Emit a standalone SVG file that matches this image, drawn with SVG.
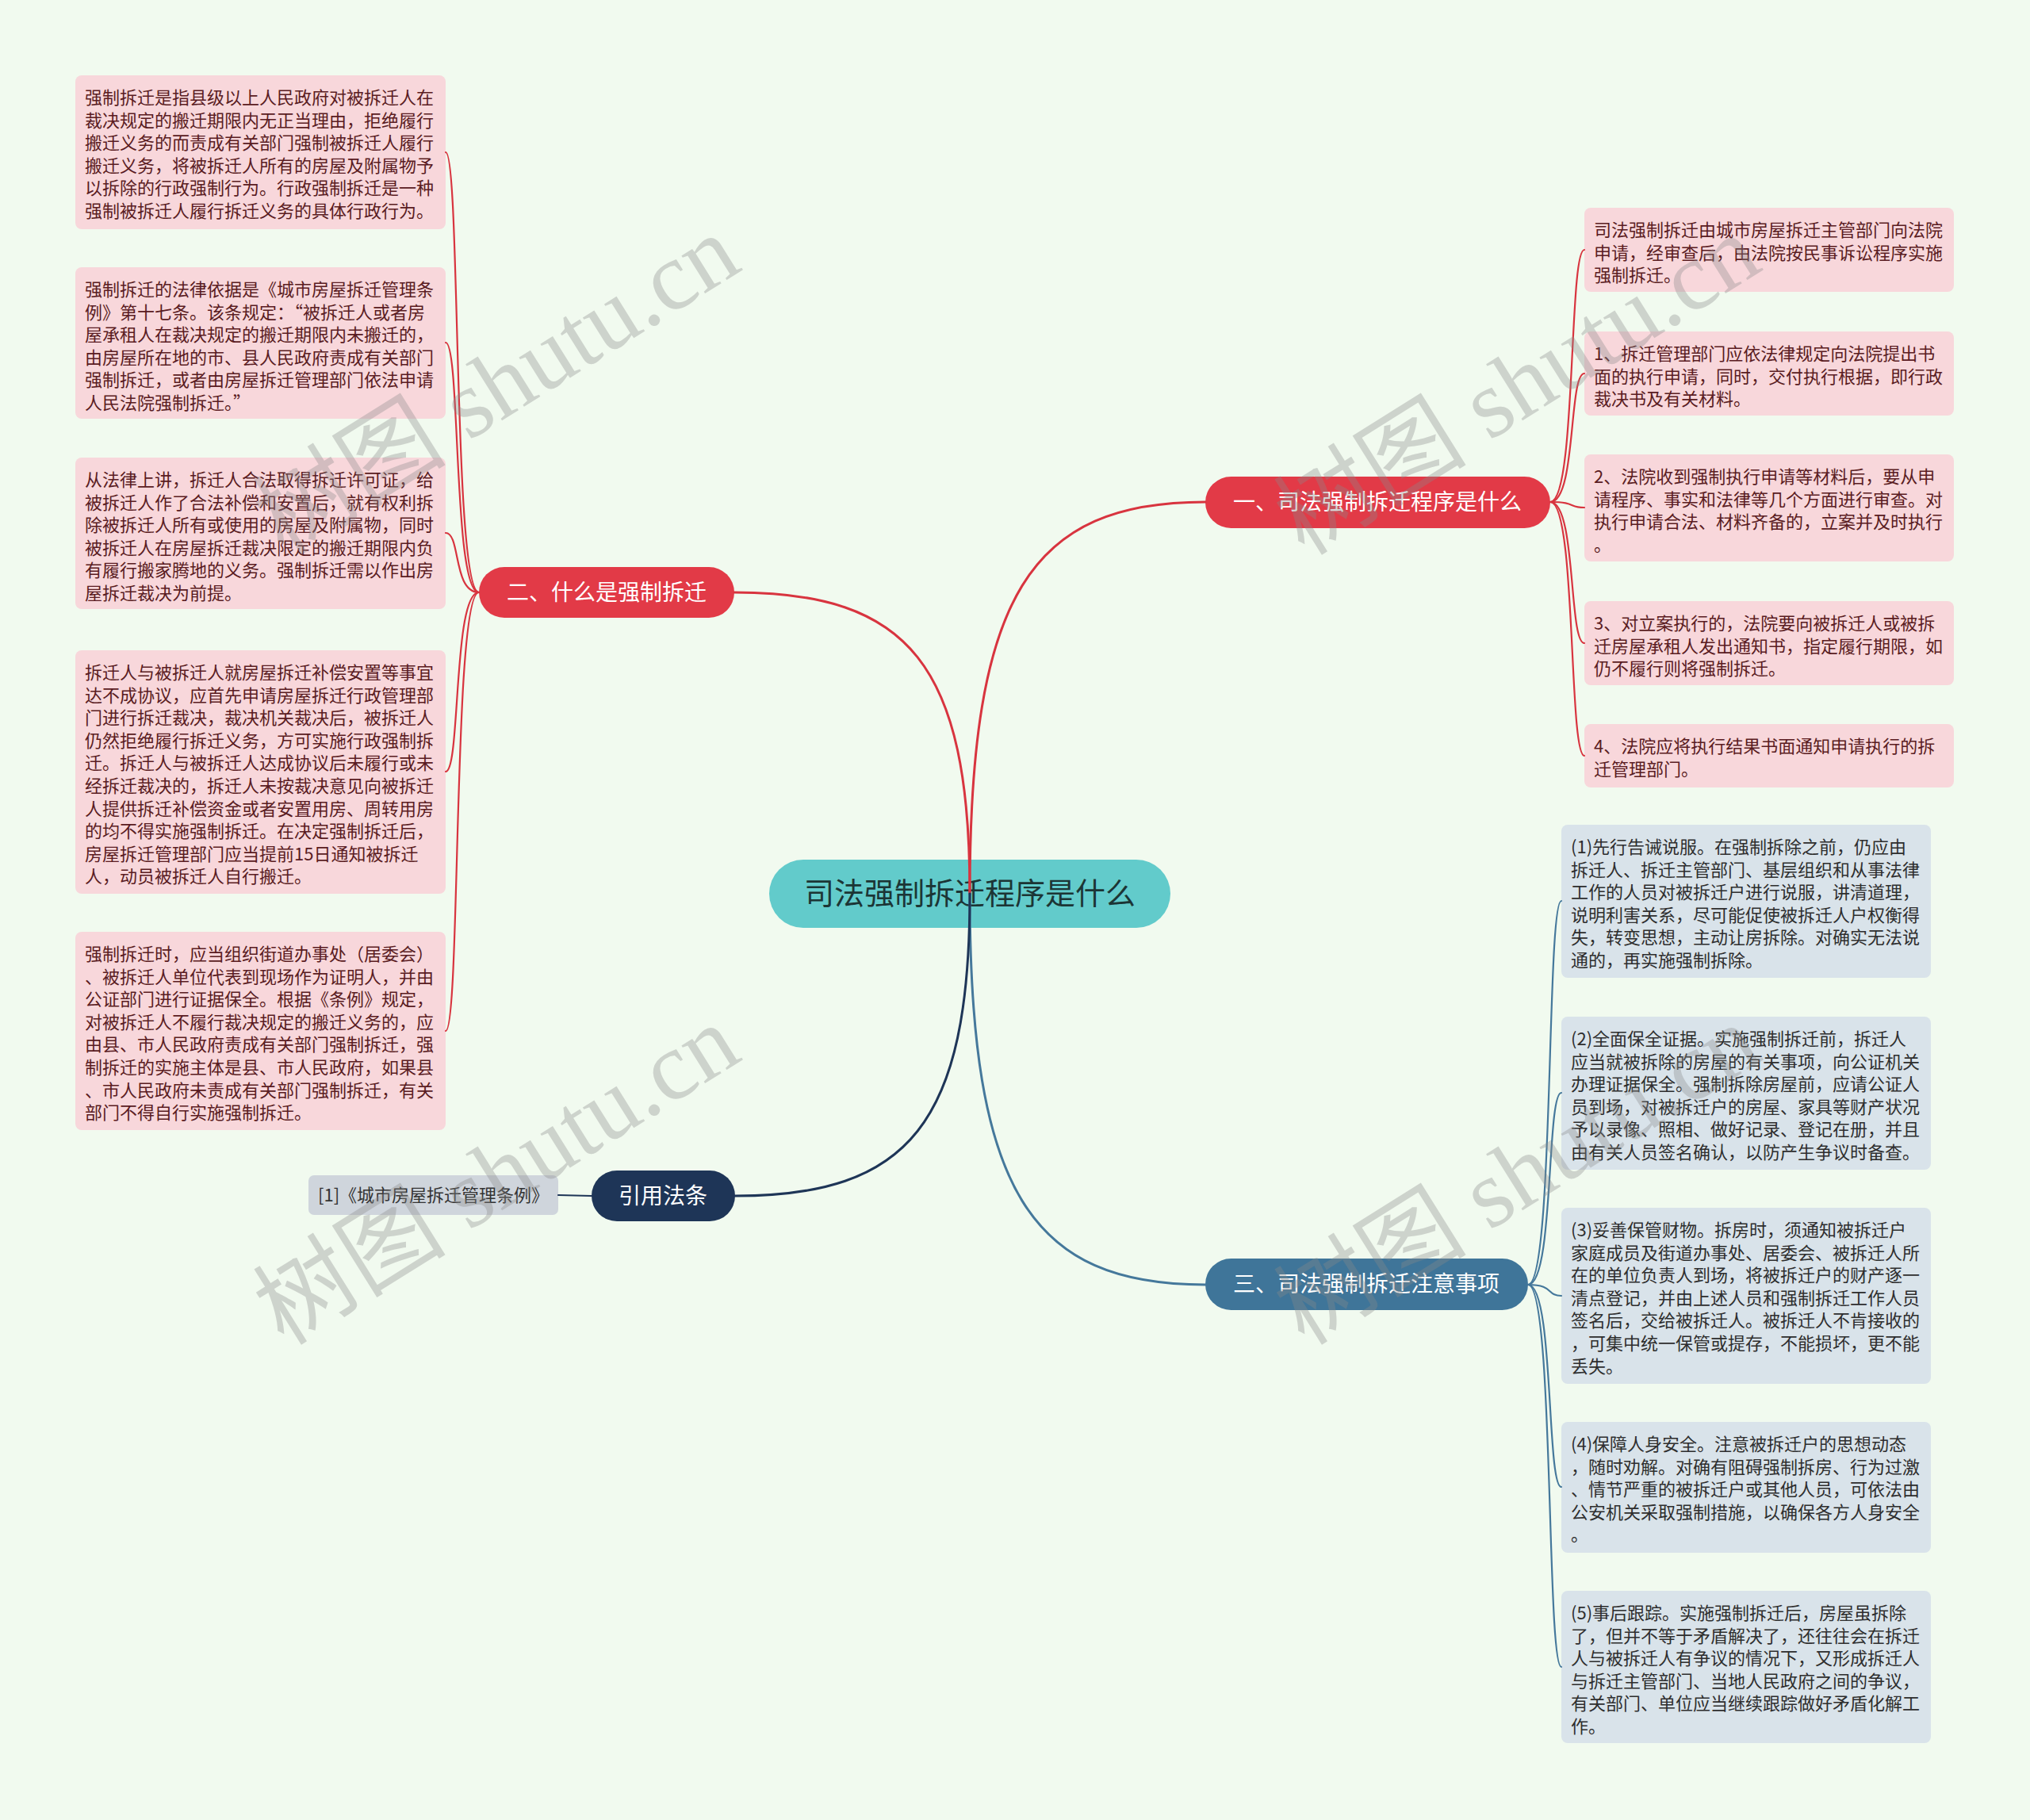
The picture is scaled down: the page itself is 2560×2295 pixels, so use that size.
<svg xmlns="http://www.w3.org/2000/svg" width="2560" height="2295" viewBox="0 0 2560 2295">
<style>
.bg{fill:#f1faef}
text{font-family:"Noto Sans CJK SC","Noto Sans",sans-serif}
.root rect{fill:#62cbcb}
.root text{fill:#1c3535;font-size:38px;text-anchor:middle}
.b1 rect{fill:#e23a47}
.b2 rect{fill:#e23a47}
.b3 rect{fill:#3f7599}
.b4 rect{fill:#1e3557}
.br text{fill:#ffffff;font-size:28px;text-anchor:middle}
.pk rect{fill:#f8d7db}
.pk text{fill:#5a1c22;font-size:22px}
.bl rect{fill:#d9e3ea}
.bl text{fill:#2e2e2e;font-size:22px}
.gy rect{fill:#cfd5dc}
.gy text{fill:#333333;font-size:22px}
.c{fill:none;stroke-linecap:round}
.red{stroke:#d8343f}
.blu{stroke:#45789b}
.nav{stroke:#1e3557}
.main{stroke-width:3}
.sub{stroke-width:2.2}
.wm text{font-family:"Liberation Serif","Noto Sans CJK SC",serif;font-size:122px;fill:#8a8a8a;opacity:0.34}
</style>
<rect class="bg" x="0" y="0" width="2560" height="2295"/>

<g id="root" class="root">
<rect x="970" y="1084" width="506" height="86" rx="43"/>
<text x="1223" y="1140">司法强制拆迁程序是什么</text>
</g>

<g id="branch1" class="br b1">
<rect x="1520" y="601" width="435" height="65" rx="32.5"/>
<text x="1737" y="643">一、司法强制拆迁程序是什么</text>
</g>
<g id="branch2" class="br b2">
<rect x="604" y="715" width="322" height="64" rx="32"/>
<text x="765" y="757">二、什么是强制拆迁</text>
</g>
<g id="branch3" class="br b3">
<rect x="1520" y="1587" width="407" height="65" rx="32.5"/>
<text x="1723" y="1629">三、司法强制拆迁注意事项</text>
</g>
<g id="branch4" class="br b4">
<rect x="746" y="1476" width="181" height="64" rx="32"/>
<text x="836" y="1518">引用法条</text>
</g>

<g id="ref1" class="gy">
<rect x="389" y="1482" width="315" height="50" rx="7"/>
<text x="401" y="1515">[1]《城市房屋拆迁管理条例》</text>
</g>

<g id="left1" class="pk">
<rect x="95" y="95" width="467" height="194" rx="8"/>
<text x="107"><tspan x="107" y="131">强制拆迁是指县级以上人民政府对被拆迁人在</tspan><tspan x="107" y="159.6">裁决规定的搬迁期限内无正当理由，拒绝履行</tspan><tspan x="107" y="188.2">搬迁义务的而责成有关部门强制被拆迁人履行</tspan><tspan x="107" y="216.8">搬迁义务，将被拆迁人所有的房屋及附属物予</tspan><tspan x="107" y="245.4">以拆除的行政强制行为。行政强制拆迁是一种</tspan><tspan x="107" y="274">强制被拆迁人履行拆迁义务的具体行政行为。</tspan></text>
</g>
<g id="left2" class="pk">
<rect x="95" y="337" width="467" height="191" rx="8"/>
<text x="107"><tspan x="107" y="373">强制拆迁的法律依据是《城市房屋拆迁管理条</tspan><tspan x="107" y="401.6">例》第十七条。该条规定：“被拆迁人或者房</tspan><tspan x="107" y="430.2">屋承租人在裁决规定的搬迁期限内未搬迁的，</tspan><tspan x="107" y="458.8">由房屋所在地的市、县人民政府责成有关部门</tspan><tspan x="107" y="487.4">强制拆迁，或者由房屋拆迁管理部门依法申请</tspan><tspan x="107" y="516">人民法院强制拆迁。”</tspan></text>
</g>
<g id="left3" class="pk">
<rect x="95" y="577" width="467" height="191" rx="8"/>
<text x="107"><tspan x="107" y="613">从法律上讲，拆迁人合法取得拆迁许可证，给</tspan><tspan x="107" y="641.6">被拆迁人作了合法补偿和安置后，就有权利拆</tspan><tspan x="107" y="670.2">除被拆迁人所有或使用的房屋及附属物，同时</tspan><tspan x="107" y="698.8">被拆迁人在房屋拆迁裁决限定的搬迁期限内负</tspan><tspan x="107" y="727.4">有履行搬家腾地的义务。强制拆迁需以作出房</tspan><tspan x="107" y="756">屋拆迁裁决为前提。</tspan></text>
</g>
<g id="left4" class="pk">
<rect x="95" y="820" width="467" height="307" rx="8"/>
<text x="107"><tspan x="107" y="856">拆迁人与被拆迁人就房屋拆迁补偿安置等事宜</tspan><tspan x="107" y="884.6">达不成协议，应首先申请房屋拆迁行政管理部</tspan><tspan x="107" y="913.2">门进行拆迁裁决，裁决机关裁决后，被拆迁人</tspan><tspan x="107" y="941.8">仍然拒绝履行拆迁义务，方可实施行政强制拆</tspan><tspan x="107" y="970.4">迁。拆迁人与被拆迁人达成协议后未履行或未</tspan><tspan x="107" y="999">经拆迁裁决的，拆迁人未按裁决意见向被拆迁</tspan><tspan x="107" y="1027.6">人提供拆迁补偿资金或者安置用房、周转用房</tspan><tspan x="107" y="1056.2">的均不得实施强制拆迁。在决定强制拆迁后，</tspan><tspan x="107" y="1084.8">房屋拆迁管理部门应当提前15日通知被拆迁</tspan><tspan x="107" y="1113.4">人，动员被拆迁人自行搬迁。</tspan></text>
</g>
<g id="left5" class="pk">
<rect x="95" y="1175" width="467" height="250" rx="8"/>
<text x="107"><tspan x="107" y="1211">强制拆迁时，应当组织街道办事处（居委会）</tspan><tspan x="107" y="1239.6">、被拆迁人单位代表到现场作为证明人，并由</tspan><tspan x="107" y="1268.2">公证部门进行证据保全。根据《条例》规定，</tspan><tspan x="107" y="1296.8">对被拆迁人不履行裁决规定的搬迁义务的，应</tspan><tspan x="107" y="1325.4">由县、市人民政府责成有关部门强制拆迁，强</tspan><tspan x="107" y="1354">制拆迁的实施主体是县、市人民政府，如果县</tspan><tspan x="107" y="1382.6">、市人民政府未责成有关部门强制拆迁，有关</tspan><tspan x="107" y="1411.2">部门不得自行实施强制拆迁。</tspan></text>
</g>

<g id="right1" class="pk">
<rect x="1998" y="262" width="466" height="106" rx="8"/>
<text x="2010"><tspan x="2010" y="298">司法强制拆迁由城市房屋拆迁主管部门向法院</tspan><tspan x="2010" y="326.6">申请，经审查后，由法院按民事诉讼程序实施</tspan><tspan x="2010" y="355.2">强制拆迁。</tspan></text>
</g>
<g id="right2" class="pk">
<rect x="1998" y="418" width="466" height="106" rx="8"/>
<text x="2010"><tspan x="2010" y="454">1、拆迁管理部门应依法律规定向法院提出书</tspan><tspan x="2010" y="482.6">面的执行申请，同时，交付执行根据，即行政</tspan><tspan x="2010" y="511.2">裁决书及有关材料。</tspan></text>
</g>
<g id="right3" class="pk">
<rect x="1998" y="573" width="466" height="135" rx="8"/>
<text x="2010"><tspan x="2010" y="609">2、法院收到强制执行申请等材料后，要从申</tspan><tspan x="2010" y="637.6">请程序、事实和法律等几个方面进行审查。对</tspan><tspan x="2010" y="666.2">执行申请合法、材料齐备的，立案并及时执行</tspan><tspan x="2010" y="694.8">。</tspan></text>
</g>
<g id="right4" class="pk">
<rect x="1998" y="758" width="466" height="106" rx="8"/>
<text x="2010"><tspan x="2010" y="794">3、对立案执行的，法院要向被拆迁人或被拆</tspan><tspan x="2010" y="822.6">迁房屋承租人发出通知书，指定履行期限，如</tspan><tspan x="2010" y="851.2">仍不履行则将强制拆迁。</tspan></text>
</g>
<g id="right5" class="pk">
<rect x="1998" y="913" width="466" height="80" rx="8"/>
<text x="2010"><tspan x="2010" y="949">4、法院应将执行结果书面通知申请执行的拆</tspan><tspan x="2010" y="977.6">迁管理部门。</tspan></text>
</g>

<g id="note1" class="bl">
<rect x="1969" y="1040" width="466" height="193" rx="8"/>
<text x="1981"><tspan x="1981" y="1076">(1)先行告诫说服。在强制拆除之前，仍应由</tspan><tspan x="1981" y="1104.6">拆迁人、拆迁主管部门、基层组织和从事法律</tspan><tspan x="1981" y="1133.2">工作的人员对被拆迁户进行说服，讲清道理，</tspan><tspan x="1981" y="1161.8">说明利害关系，尽可能促使被拆迁人户权衡得</tspan><tspan x="1981" y="1190.4">失，转变思想，主动让房拆除。对确实无法说</tspan><tspan x="1981" y="1219">通的，再实施强制拆除。</tspan></text>
</g>
<g id="note2" class="bl">
<rect x="1969" y="1282" width="466" height="193" rx="8"/>
<text x="1981"><tspan x="1981" y="1318">(2)全面保全证据。实施强制拆迁前，拆迁人</tspan><tspan x="1981" y="1346.6">应当就被拆除的房屋的有关事项，向公证机关</tspan><tspan x="1981" y="1375.2">办理证据保全。强制拆除房屋前，应请公证人</tspan><tspan x="1981" y="1403.8">员到场，对被拆迁户的房屋、家具等财产状况</tspan><tspan x="1981" y="1432.4">予以录像、照相、做好记录、登记在册，并且</tspan><tspan x="1981" y="1461">由有关人员签名确认，以防产生争议时备查。</tspan></text>
</g>
<g id="note3" class="bl">
<rect x="1969" y="1523" width="466" height="222" rx="8"/>
<text x="1981"><tspan x="1981" y="1559">(3)妥善保管财物。拆房时，须通知被拆迁户</tspan><tspan x="1981" y="1587.6">家庭成员及街道办事处、居委会、被拆迁人所</tspan><tspan x="1981" y="1616.2">在的单位负责人到场，将被拆迁户的财产逐一</tspan><tspan x="1981" y="1644.8">清点登记，并由上述人员和强制拆迁工作人员</tspan><tspan x="1981" y="1673.4">签名后，交给被拆迁人。被拆迁人不肯接收的</tspan><tspan x="1981" y="1702">，可集中统一保管或提存，不能损坏，更不能</tspan><tspan x="1981" y="1730.6">丢失。</tspan></text>
</g>
<g id="note4" class="bl">
<rect x="1969" y="1793" width="466" height="165" rx="8"/>
<text x="1981"><tspan x="1981" y="1829">(4)保障人身安全。注意被拆迁户的思想动态</tspan><tspan x="1981" y="1857.6">，随时劝解。对确有阻碍强制拆房、行为过激</tspan><tspan x="1981" y="1886.2">、情节严重的被拆迁户或其他人员，可依法由</tspan><tspan x="1981" y="1914.8">公安机关采取强制措施，以确保各方人身安全</tspan><tspan x="1981" y="1943.4">。</tspan></text>
</g>
<g id="note5" class="bl">
<rect x="1969" y="2006" width="466" height="192" rx="8"/>
<text x="1981"><tspan x="1981" y="2042">(5)事后跟踪。实施强制拆迁后，房屋虽拆除</tspan><tspan x="1981" y="2070.6">了，但并不等于矛盾解决了，还往往会在拆迁</tspan><tspan x="1981" y="2099.2">人与被拆迁人有争议的情况下，又形成拆迁人</tspan><tspan x="1981" y="2127.8">与拆迁主管部门、当地人民政府之间的争议，</tspan><tspan x="1981" y="2156.4">有关部门、单位应当继续跟踪做好矛盾化解工</tspan><tspan x="1981" y="2185">作。</tspan></text>
</g>

<g id="connectors">
<path class="c red main" d="M1223,1127 C1223,750 1300,633 1520,633"/>
<path class="c red main" d="M1223,1127 C1223,838 1146,747 926,747"/>
<path class="c blu main" d="M1223,1127 C1223,1502 1300,1620 1520,1620"/>
<path class="c nav main" d="M1223,1127 C1223,1417 1146,1508 927,1508"/>
<path class="c nav sub" d="M746,1508 L704,1507"/>
<path class="c red sub" d="M1955,633 C1988,633 1978,315 1998,315"/>
<path class="c red sub" d="M1955,633 C1988,633 1978,471 1998,471"/>
<path class="c red sub" d="M1955,633 C1988,633 1978,640 1998,640"/>
<path class="c red sub" d="M1955,633 C1988,633 1978,811 1998,811"/>
<path class="c red sub" d="M1955,633 C1988,633 1978,953 1998,953"/>
<path class="c red sub" d="M604,747 C571,747 581,192 562,192"/>
<path class="c red sub" d="M604,747 C571,747 581,432 562,432"/>
<path class="c red sub" d="M604,747 C571,747 581,672 562,672"/>
<path class="c red sub" d="M604,747 C571,747 581,973 562,973"/>
<path class="c red sub" d="M604,747 C571,747 581,1300 562,1300"/>
<path class="c blu sub" d="M1927,1620 C1960,1620 1950,1136 1969,1136"/>
<path class="c blu sub" d="M1927,1620 C1960,1620 1950,1378 1969,1378"/>
<path class="c blu sub" d="M1927,1620 C1960,1620 1950,1634 1969,1634"/>
<path class="c blu sub" d="M1927,1620 C1960,1620 1950,1875 1969,1875"/>
<path class="c blu sub" d="M1927,1620 C1960,1620 1950,2102 1969,2102"/>
</g>

<g class="wm">
<text transform="translate(358,702) rotate(-32)">树图 shutu.cn</text>
<text transform="translate(358,1698) rotate(-32)">树图 shutu.cn</text>
<text transform="translate(1645,702) rotate(-32)">树图 shutu.cn</text>
<text transform="translate(1645,1698) rotate(-32)">树图 shutu.cn</text>
</g>
</svg>
